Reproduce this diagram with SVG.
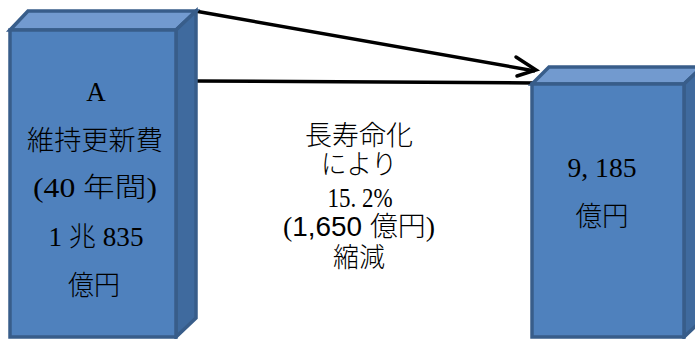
<svg xmlns="http://www.w3.org/2000/svg" width="695" height="339" viewBox="0 0 695 339">
<defs>
<style>
.front{fill:#4F81BD;stroke:#385D8A;stroke-width:3.5;stroke-linejoin:miter}
.top{fill:#729ACF;stroke:#385D8A;stroke-width:3.5}
.side{fill:#3F6A9E;stroke:#385D8A;stroke-width:3.5}
.t{font-family:"Liberation Serif","Noto Sans CJK JP",serif;font-size:27px;font-weight:300;fill:#000;text-anchor:middle}
.conn{stroke:#000;stroke-width:3.5;fill:none}
</style>
</defs>
<g id="connectors">
<line class="conn" x1="195" y1="11" x2="535" y2="71"/>
<path d="M516,57 L536,70 L517,76" fill="none" stroke="#000" stroke-width="3.5" stroke-linecap="round" stroke-linejoin="miter"/>
<line class="conn" x1="195" y1="81" x2="534" y2="83"/>
</g>
<g id="boxA">
<polygon class="top" points="10,30 28,11 196,11 176,30"/>
<polygon class="side" points="176,30 196,11 196,318 176,337"/>
<rect class="front" x="10" y="30" width="166" height="307"/>
<text class="t" x="96" y="101">A</text>
<text class="t" x="95" y="150" textLength="136" lengthAdjust="spacingAndGlyphs">維持更新費</text>
<text class="t" x="95" y="197" textLength="124" lengthAdjust="spacingAndGlyphs">(40 年間)</text>
<text class="t" x="96" y="246" textLength="95" lengthAdjust="spacingAndGlyphs">1 兆 835</text>
<text class="t" x="94" y="295" textLength="52" lengthAdjust="spacingAndGlyphs">億円</text>
</g>
<g id="label">
<text class="t" x="359" y="145" textLength="108" lengthAdjust="spacingAndGlyphs">長寿命化</text>
<text class="t" x="359" y="174" textLength="76" lengthAdjust="spacingAndGlyphs">により</text>
<text class="t" x="360" y="207" textLength="65" lengthAdjust="spacingAndGlyphs">15. 2%</text>
<text class="t" x="359" y="236" textLength="152" lengthAdjust="spacingAndGlyphs">(<tspan font-family="Liberation Sans,Noto Sans CJK JP,sans-serif">1,650 億円</tspan>)</text>
<text class="t" x="359" y="267" textLength="52" lengthAdjust="spacingAndGlyphs">縮減</text>
</g>
<g id="boxB">
<polygon class="top" points="532,84 549,67 702,67 684,84"/>
<polygon class="side" points="684,84 702,67 702,320 684,337"/>
<rect class="front" x="532" y="84" width="152" height="253"/>
<text class="t" x="602" y="177" textLength="69" lengthAdjust="spacingAndGlyphs">9, 185</text>
<text class="t" x="602" y="226" textLength="53" lengthAdjust="spacingAndGlyphs">億円</text>
</g>
</svg>
